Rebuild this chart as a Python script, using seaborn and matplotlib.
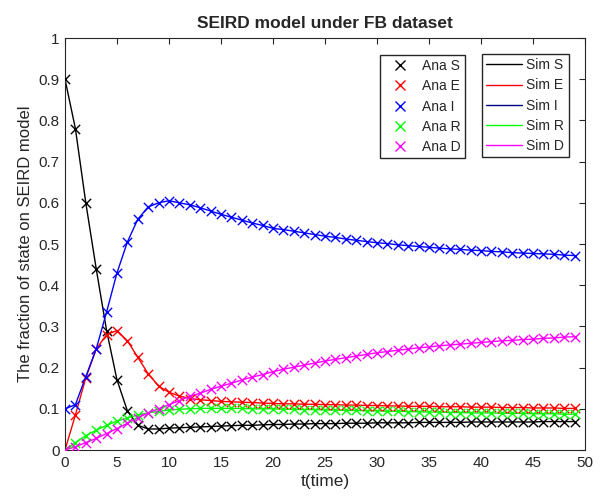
import numpy as np
import pandas as pd
import seaborn as sns
import matplotlib.pyplot as plt
from matplotlib.lines import Line2D

# time steps
t = list(range(50))

# fractions
S = [0.900, 0.780, 0.600, 0.440, 0.290, 0.170, 0.095, 0.060, 0.051, 0.051,
     0.053, 0.054, 0.055, 0.056, 0.057, 0.058, 0.059, 0.060, 0.060, 0.061,
     0.062, 0.062, 0.063, 0.063, 0.064, 0.064, 0.064, 0.065, 0.065, 0.065,
     0.066, 0.066, 0.066, 0.066, 0.067, 0.067, 0.067, 0.067, 0.067, 0.068,
     0.068, 0.068, 0.068, 0.068, 0.068, 0.068, 0.069, 0.069, 0.069, 0.069]
E = [0.000, 0.085, 0.175, 0.245, 0.280, 0.290, 0.265, 0.225, 0.185, 0.155,
     0.140, 0.131, 0.125, 0.122, 0.120, 0.118, 0.117, 0.116, 0.115, 0.114,
     0.113, 0.112, 0.112, 0.111, 0.111, 0.110, 0.110, 0.109, 0.109, 0.108,
     0.108, 0.107, 0.107, 0.106, 0.106, 0.106, 0.105, 0.105, 0.105, 0.104,
     0.104, 0.104, 0.103, 0.103, 0.103, 0.102, 0.102, 0.102, 0.101, 0.101]
I = [0.100, 0.110, 0.178, 0.245, 0.335, 0.430, 0.505, 0.560, 0.590, 0.600,
     0.605, 0.600, 0.595, 0.588, 0.580, 0.572, 0.565, 0.558, 0.551, 0.545,
     0.538, 0.535, 0.531, 0.527, 0.523, 0.519, 0.516, 0.512, 0.509, 0.506,
     0.503, 0.501, 0.498, 0.496, 0.494, 0.492, 0.490, 0.488, 0.487, 0.485,
     0.484, 0.482, 0.481, 0.479, 0.478, 0.477, 0.476, 0.475, 0.473, 0.472]
R = [0.000, 0.018, 0.035, 0.048, 0.060, 0.070, 0.078, 0.085, 0.090, 0.094,
     0.097, 0.099, 0.100, 0.101, 0.101, 0.101, 0.101, 0.101, 0.100, 0.100,
     0.100, 0.099, 0.099, 0.098, 0.098, 0.097, 0.097, 0.096, 0.096, 0.095,
     0.095, 0.094, 0.094, 0.093, 0.093, 0.092, 0.092, 0.091, 0.091, 0.090,
     0.090, 0.090, 0.089, 0.089, 0.089, 0.088, 0.088, 0.088, 0.087, 0.087]
D = [0.000, 0.008, 0.018, 0.028, 0.040, 0.052, 0.065, 0.078, 0.090, 0.100,
     0.110, 0.120, 0.130, 0.138, 0.147, 0.155, 0.162, 0.170, 0.177, 0.183,
     0.190, 0.196, 0.201, 0.206, 0.211, 0.216, 0.220, 0.224, 0.228, 0.232,
     0.236, 0.239, 0.242, 0.245, 0.248, 0.250, 0.253, 0.255, 0.257, 0.259,
     0.261, 0.263, 0.265, 0.266, 0.268, 0.269, 0.271, 0.272, 0.274, 0.275]

states = ['S', 'E', 'I', 'R', 'D']
colors = ['black', '#ff0000', '#0000ff', '#00ff00', '#ff00ff']
sim_legend_colors = ['black', '#ff0000', '#000080', '#00ff00', '#ff00ff']

df = pd.DataFrame({'t': t, 'S': S, 'E': E, 'I': I, 'R': R, 'D': D})

sns.set_style("white")
plt.rcParams['font.family'] = ['Liberation Sans', 'DejaVu Sans']

fig = plt.figure(figsize=(6.03, 5), dpi=100)
ax = fig.add_axes([65 / 603, 50 / 500, 520 / 603, 412 / 500])

# simulated curves (lines) and analytic points (x markers)
for st, c in zip(states, colors):
    sns.lineplot(data=df, x='t', y=st, color=c, linewidth=1, ax=ax)
for st, c in zip(states, colors):
    sns.scatterplot(data=df, x='t', y=st, color=c, marker='x', s=45,
                    linewidth=1, ax=ax, zorder=3)

ax.set_xlim(0, 50)
ax.set_ylim(0, 1)
ax.set_xticks(range(0, 51, 5))
ax.set_yticks(np.arange(0, 1.01, 0.1))
ax.set_yticklabels(['0', '0.1', '0.2', '0.3', '0.4', '0.5', '0.6', '0.7', '0.8', '0.9', '1'])
ax.tick_params(direction='in', length=4, width=0.8, top=True, right=True,
               labelsize=11, colors='#262626', pad=4)
for sp in ax.spines.values():
    sp.set_color('#262626')
    sp.set_linewidth(0.8)

ax.set_xlabel('t(time)', fontsize=12.5, labelpad=3)
ax.set_ylabel('The fraction of state on SEIRD model', fontsize=12, labelpad=4)
ax.set_title('SEIRD model under FB dataset', fontsize=12.5, fontweight='bold', pad=7)

ana_handles = [Line2D([], [], color=c, marker='x', linestyle='none', markersize=7)
               for c in colors]
sim_handles = [Line2D([], [], color=c, linewidth=1) for c in sim_legend_colors]

leg1 = ax.legend(ana_handles, ['Ana ' + s for s in states], loc='upper left',
                 bbox_to_anchor=(0.606, 0.959), borderaxespad=0, fontsize=10,
                 fancybox=False, edgecolor='#262626', framealpha=1,
                 handlelength=2.3, handletextpad=0.45, labelspacing=0.45,
                 borderpad=0.3)
ax.add_artist(leg1)
ax.legend(sim_handles, ['Sim ' + s for s in states], loc='upper left',
          bbox_to_anchor=(0.802, 0.961), borderaxespad=0, fontsize=10,
          fancybox=False, edgecolor='#262626', framealpha=1,
          handlelength=2.6, handletextpad=0.3, labelspacing=0.45,
          borderpad=0.3)

fig.savefig('out.png', dpi=100)
